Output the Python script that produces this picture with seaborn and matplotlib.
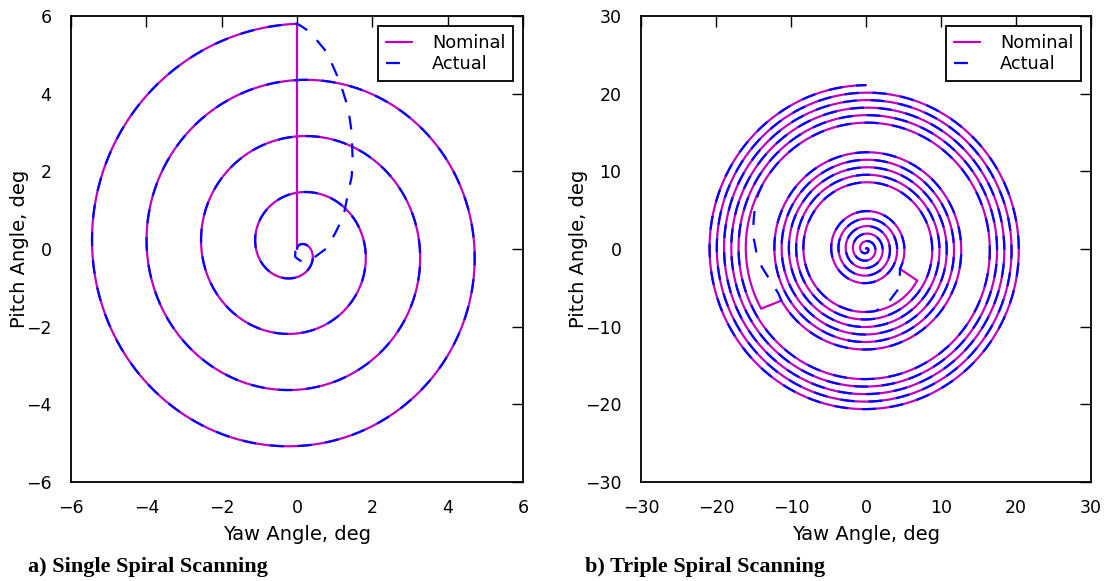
import numpy as np
import pandas as pd
import matplotlib
matplotlib.use("Agg")
import matplotlib.pyplot as plt
import seaborn as sns

# ---------------- data ----------------
# Archimedean spirals, traversed clockwise outward (angles in degrees)
spiral_names = ["single", "inner", "middle", "outer"]
spiral_r_start = [0.0, 0.0, 7.95, 15.95]
spiral_r_end = [5.80, 5.20, 13.10, 21.10]
spiral_end_angle = [90.0, -29.5, 210.5, 90.0]
spiral_turns = [4.0, 5.38, 5.33, 5.33]

# panel a: nominal return line from end of spiral to the centre
single_return_x = [0.0, 0.0]
single_return_y = [5.8, 0.0]
# panel a: actual return path (dashed)
single_actual_x = [0.0, 0.08, 0.34, 0.79, 1.14, 1.36, 1.45, 1.48, 1.45, 1.32,
                   1.23, 1.01, 0.79, 0.48, 0.28, 0.08, -0.05, -0.04, 0.0]
single_actual_y = [5.8, 5.76, 5.59, 5.07, 4.30, 3.62, 3.02, 2.24, 1.86, 1.26,
                   0.83, 0.40, 0.02, -0.20, -0.31, -0.30, -0.20, -0.05, 0.0]

# panel b: actual transition paths (dashed), and where the actual rejoins
trans1_x = [4.5, 4.2, 2.8, 1.6]
trans1_y = [-3.7, -5.3, -7.1, -7.8]
trans1_rejoin_skip = 50.0   # degrees of middle spiral skipped
trans2_x = [-11.7, -12.8, -13.9, -14.6, -15.0, -15.0, -14.8, -14.4]
trans2_y = [-5.7, -4.0, -2.3, -0.5, 1.5, 3.5, 5.5, 7.0]
trans2_rejoin_skip = 60.0   # degrees of outer spiral skipped

a_ticks = [-6, -4, -2, 0, 2, 4, 6]
b_ticks = [-30, -20, -10, 0, 10, 20, 30]
series_labels = ["Nominal", "Actual"]
captions = ["a) Single Spiral Scanning", "b) Triple Spiral Scanning"]


def spiral(i, skip_deg=0.0, n=1500):
    total = spiral_turns[i] * 360.0
    t = np.linspace(skip_deg / total, 1.0, n)
    ang = np.deg2rad(spiral_end_angle[i] + (1.0 - t) * total)
    r = spiral_r_start[i] + t * (spiral_r_end[i] - spiral_r_start[i])
    return r * np.cos(ang), r * np.sin(ang)


def path_df(parts):
    xs = np.concatenate([np.asarray(p[0], float) for p in parts])
    ys = np.concatenate([np.asarray(p[1], float) for p in parts])
    return pd.DataFrame({"x": xs, "y": ys})


# ---------------- styling ----------------
sns.set_style("white")
plt.rcParams.update({
    "font.family": ["DejaVu Sans"],
    "text.color": "black", "axes.labelcolor": "black",
    "xtick.color": "black", "ytick.color": "black",
    "xtick.direction": "in", "ytick.direction": "in",
    "xtick.top": True, "ytick.right": True,
    "xtick.major.size": 8, "ytick.major.size": 8,
    "xtick.major.width": 1.0, "ytick.major.width": 1.0,
    "xtick.labelsize": 12.5, "ytick.labelsize": 12.5,
    "axes.labelsize": 14, "axes.linewidth": 1.3,
    "xtick.major.pad": 12, "ytick.major.pad": 14,
    "lines.scale_dashes": False,
})

NOM_C = "#bf00bf"
ACT_C = "#0000ff"
LW = 1.6
DASH = (10, 10)

fig = plt.figure(figsize=(11.14, 5.81), dpi=100)
W, H = 1114.0, 581.0
ax_a = fig.add_axes([71 / W, (H - 482) / H, 452 / W, 466 / H])
ax_b = fig.add_axes([641 / W, (H - 482) / H, 450 / W, 466 / H])


def draw(ax, nom, act):
    sns.lineplot(data=nom, x="x", y="y", sort=False, estimator=None,
                 color=NOM_C, lw=LW, ax=ax, label=series_labels[0])
    sns.lineplot(data=act, x="x", y="y", sort=False, estimator=None,
                 color=ACT_C, lw=LW, ax=ax, label=series_labels[1])
    ln = ax.lines[-1]
    ln.set_dashes(DASH)
    ln.set_dash_capstyle("butt")


# panel a
s_nom = path_df([spiral(0), (single_return_x, single_return_y)])
s_act = path_df([spiral(0), (single_actual_x, single_actual_y)])
draw(ax_a, s_nom, s_act)

# panel b
t_nom = path_df([spiral(1), spiral(2), spiral(3)])
t_act = path_df([spiral(1), (trans1_x, trans1_y),
                 spiral(2, trans1_rejoin_skip), (trans2_x, trans2_y),
                 spiral(3, trans2_rejoin_skip)])
draw(ax_b, t_nom, t_act)

for ax, ticks, lim in [(ax_a, a_ticks, 6), (ax_b, b_ticks, 30)]:
    ax.set_xlim(-lim, lim)
    ax.set_ylim(-lim, lim)
    ax.set_xticks(ticks)
    ax.set_yticks(ticks)
    ax.set_xlabel("Yaw Angle, deg", labelpad=6)
    ax.set_ylabel("Pitch Angle, deg", labelpad=-2)
    for sp in ax.spines.values():
        sp.set_visible(True)
        sp.set_color("black")
        sp.set_linewidth(1.3)
    leg = ax.legend(loc="upper right", fontsize=12.8, handlelength=1.5,
                    handletextpad=1.1, labelspacing=0.2, borderpad=0.45,
                    fancybox=False, framealpha=1.0, edgecolor="black",
                    borderaxespad=0.55)
    leg.get_frame().set_linewidth(1.3)
    for h in leg.get_lines():
        h.set_linewidth(LW)

fig.text(28 / W, 1 - 567 / H, captions[0], family="Liberation Serif",
         weight="bold", fontsize=16, va="center", ha="left")
fig.text(585 / W, 1 - 567 / H, captions[1], family="Liberation Serif",
         weight="bold", fontsize=16, va="center", ha="left")

fig.savefig("out.png", dpi=100)
